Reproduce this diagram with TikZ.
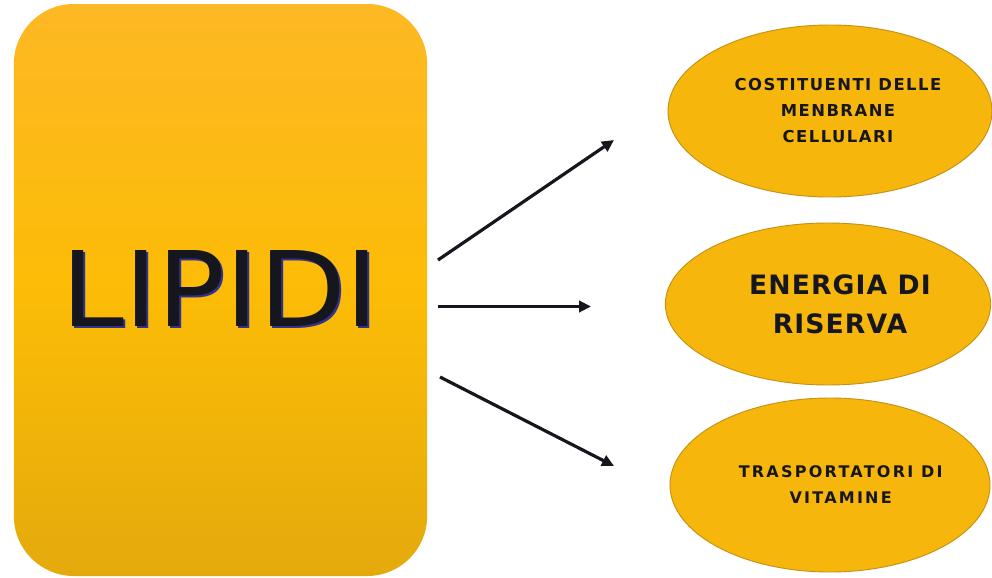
\documentclass[tikz,border=0pt]{standalone}
\usepackage{fontspec}
\setmainfont{DejaVu Sans}
\usetikzlibrary{shapes.geometric,arrows.meta}
\definecolor{boxtop}{RGB}{253,184,36}
\definecolor{boxmid}{RGB}{252,188,6}
\definecolor{boxbot}{RGB}{228,170,12}
\definecolor{ellfill}{RGB}{246,182,12}
\definecolor{elledge}{RGB}{196,146,20}
\definecolor{inkdark}{RGB}{22,22,30}
\definecolor{inkshadow}{RGB}{50,50,140}
\tikzset{
  mainbox/.style={rectangle, rounded corners=45pt, minimum width=310pt, minimum height=429pt,
    inner sep=0pt, top color=boxtop, bottom color=boxbot, middle color=boxmid, draw=none},
  roleell/.style={ellipse, inner sep=0pt, fill=ellfill, draw=elledge, line width=0.7pt,
    align=center, text=inkdark},
  arrowline/.style={line width=2.4pt, draw=inkdark, -{Triangle[length=9pt,width=8.5pt]}}
}
\begin{document}
\begin{tikzpicture}[x=0.75pt,y=-0.75pt]
\useasboundingbox (0,0) rectangle (992,578);
\fill[white] (0,0) rectangle (992,578);
\node[mainbox] (lipidi) at (220.5,290) {};
\node[inkshadow] (lipidishadow) at (222.5,290) {\resizebox{238pt}{57pt}{LIPIDI}};
\node[text=inkdark] (lipiditext) at (220.5,288.5) {\resizebox{238pt}{57pt}{LIPIDI}};

\node[roleell, minimum width=243pt, minimum height=129pt, font=\bfseries\fontsize{12.3}{19.5}\selectfont\addfontfeature{LetterSpace=9}] (e1) at (830,111)
  {\hspace*{12pt}COSTITUENTI DELLE\\\hspace*{12pt}MENBRANE\\\hspace*{12pt}CELLULARI};
\node[roleell, minimum width=244pt, minimum height=121.5pt, font=\bfseries\fontsize{20}{29}\selectfont\addfontfeature{LetterSpace=4}] (e2) at (828,304)
  {\hspace*{18pt}ENERGIA DI\\\hspace*{18pt}RISERVA};
\node[roleell, minimum width=240pt, minimum height=130.5pt, font=\bfseries\fontsize{12}{19.5}\selectfont\addfontfeature{LetterSpace=14}] (e3) at (830,485)
  {\hspace*{16pt}TRASPORTATORI DI\\\hspace*{16pt}VITAMINE};

\coordinate (a1s) at (438,260);
\coordinate (a1e) at (614,140);
\coordinate (a2s) at (438,306.5);
\coordinate (a2e) at (591,306.5);
\coordinate (a3s) at (440,377);
\coordinate (a3e) at (614,466);
\draw[arrowline] (a1s) -- (a1e);
\draw[arrowline] (a2s) -- (a2e);
\draw[arrowline] (a3s) -- (a3e);
\end{tikzpicture}
\end{document}
